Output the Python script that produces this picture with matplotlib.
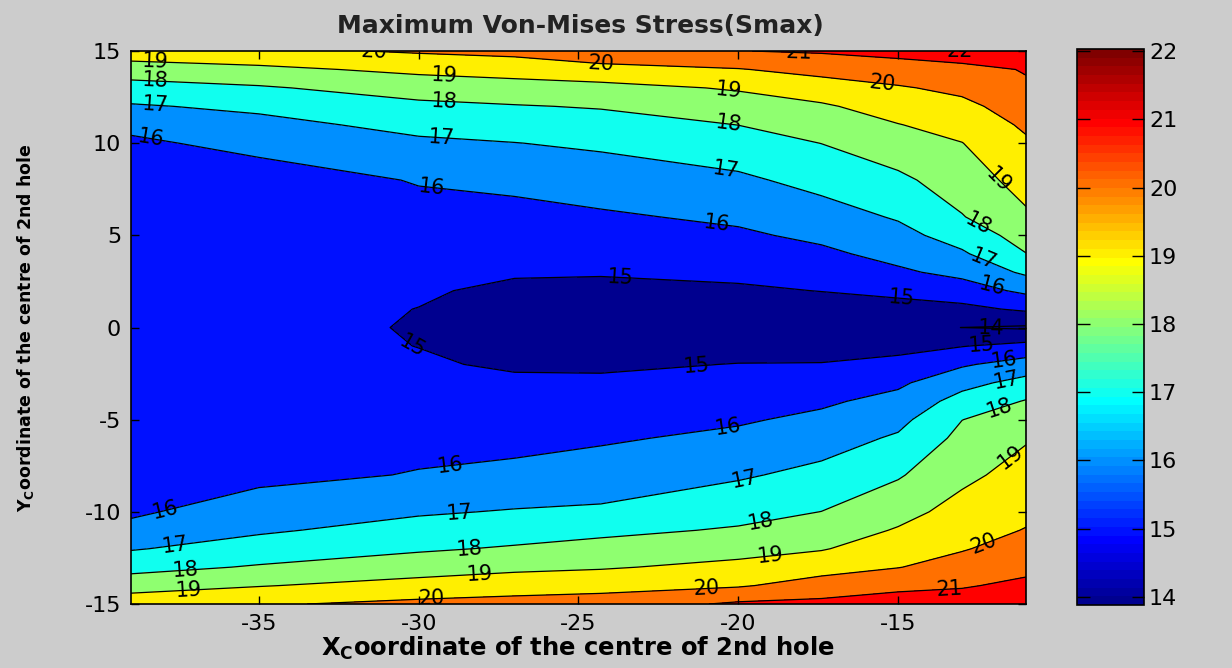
import numpy as np
import matplotlib
matplotlib.use("Agg")
import matplotlib.pyplot as plt
from matplotlib.colors import ListedColormap, Normalize
from matplotlib.cm import ScalarMappable

plt.rcParams['axes.unicode_minus'] = False

# grid of the sampled hole positions
x_nodes = [-39, -35, -30, -27, -24.3, -20, -17.4, -15, -13, -11]
y_nodes = [-15, -14, -13, -12, -11, -10, -8, -6, -5, -4, -3, -2, -1, 0,
           1, 2, 3, 4, 5, 6, 8, 10, 11, 12, 13, 14, 15]

# Smax values, one row per y node, columns follow x_nodes
smax = [
    [19.60, 19.90, 20.23, 20.36, 20.45, 21.15, 21.25, 21.50, 21.45, 21.65],
    [18.58, 18.95, 19.34, 19.54, 19.67, 19.90, 20.41, 20.74, 20.92, 21.20],
    [17.67, 18.09, 18.55, 18.79, 18.91, 19.25, 19.62, 19.97, 20.39, 20.77],
    [16.93, 17.42, 17.87, 18.10, 18.33, 18.66, 18.93, 19.53, 19.93, 20.41],
    [16.25, 16.87, 17.37, 17.57, 17.77, 18.10, 18.47, 19.08, 19.64, 20.04],
    [15.86, 16.48, 16.89, 17.07, 17.15, 17.67, 18.01, 18.68, 19.34, 19.80],
    [15.78, 15.75, 16.05, 16.20, 16.45, 16.88, 17.27, 17.90, 18.78, 19.36],
    [15.64, 15.59, 15.73, 15.76, 15.88, 16.21, 16.56, 17.13, 18.26, 18.92],
    [15.59, 15.48, 15.58, 15.55, 15.63, 15.89, 16.21, 16.72, 17.99, 18.46],
    [15.54, 15.39, 15.43, 15.33, 15.38, 15.60, 15.85, 16.30, 17.37, 18.06],
    [15.50, 15.32, 15.28, 15.12, 15.13, 15.31, 15.44, 15.83, 16.69, 17.33],
    [15.48, 15.27, 15.08, 14.91, 14.88, 15.02, 15.04, 15.28, 15.88, 16.42],
    [15.47, 15.24, 14.99, 14.80, 14.70, 14.71, 14.62, 14.71, 14.96, 15.28],
    [15.46, 15.23, 14.95, 14.78, 14.63, 14.39, 14.24, 14.11, 13.997, 13.88],
    [15.46, 15.24, 14.99, 14.80, 14.68, 14.55, 14.62, 14.66, 14.76, 15.15],
    [15.48, 15.27, 15.08, 14.86, 14.80, 14.87, 15.02, 15.23, 15.54, 16.20],
    [15.50, 15.31, 15.28, 15.07, 15.06, 15.20, 15.42, 15.85, 16.26, 17.17],
    [15.54, 15.37, 15.43, 15.30, 15.33, 15.52, 15.81, 16.30, 16.87, 17.98],
    [15.58, 15.45, 15.58, 15.52, 15.60, 15.85, 16.20, 16.70, 17.42, 18.40],
    [15.64, 15.55, 15.74, 15.75, 15.87, 16.17, 16.58, 17.09, 17.95, 18.85],
    [15.77, 15.60, 16.05, 16.20, 16.48, 16.82, 17.31, 17.80, 18.48, 19.38],
    [15.85, 16.25, 16.83, 16.98, 17.16, 17.59, 18.01, 18.57, 18.98, 19.87],
    [16.20, 16.71, 17.28, 17.45, 17.61, 18.01, 18.44, 18.97, 19.36, 20.15],
    [16.90, 17.20, 17.78, 17.94, 18.07, 18.53, 18.87, 19.44, 19.76, 20.46],
    [17.62, 17.89, 18.43, 18.61, 18.68, 19.10, 19.54, 19.91, 20.22, 20.78],
    [18.50, 18.78, 19.22, 19.39, 19.72, 19.95, 20.31, 20.56, 20.49, 21.10],
    [19.60, 19.77, 20.11, 20.28, 20.60, 20.98, 21.10, 21.30, 22.03, 21.40],
]

levels = [14, 15, 16, 17, 18, 19, 20, 21, 22]

# where the contour labels sit (approx. as in the original figure)
label_pos = [
    (-38.25, 14.3), (-38.25, 13.2), (-38.25, 12.1), (-38.4, 10.0), (-31.4, 14.97),
    (-29.2, 13.6), (-29.2, 12.2), (-29.3, 10.3), (-29.6, 7.6), (-30.3, -1.3),
    (-24.3, 14.2), (-20.3, 12.8), (-20.3, 10.9), (-20.4, 8.4), (-20.7, 5.4),
    (-23.7, 2.6), (-18.1, 14.6), (-13.2, 14.9), (-15.5, 13.1),
    (-11.8, 8.1), (-12.6, 5.3), (-12.4, 3.4), (-12.1, 2.0), (-14.9, 1.4),
    (-12.1, 0.0), (-12.4, -0.95), (-11.7, -1.8), (-11.6, -2.9), (-11.8, -4.6),
    (-11.5, -7.0), (-12.3, -11.8), (-13.4, -14.2),
    (-21.3, -2.4), (-20.3, -5.7), (-19.8, -8.4), (-19.3, -10.7), (-19.0, -12.6),
    (-21.0, -14.4),
    (-29.0, -7.6), (-28.7, -10.3), (-28.4, -12.2), (-28.1, -13.6), (-29.6, -14.7),
    (-37.9, -10.1), (-37.6, -11.9), (-37.3, -13.2), (-37.2, -14.3),
]


def matlab_jet(m=64):
    n = int(np.ceil(m / 4))
    u = np.concatenate([np.arange(1, n + 1) / n, np.ones(n - 1), np.arange(n, 0, -1) / n])
    g = int(np.ceil(n / 2)) - (1 if m % 4 == 1 else 0) + np.arange(1, len(u) + 1)
    r = g + n
    b = g - n
    J = np.zeros((m, 3))
    J[r[r <= m] - 1, 0] = u[r <= m]
    J[g[g <= m] - 1, 1] = u[g <= m]
    J[b[b >= 1] - 1, 2] = u[b >= 1]
    return J


X, Y = np.meshgrid(x_nodes, y_nodes)
Z = np.array(smax)
zmin, zmax = Z.min(), Z.max()
jet = matlab_jet(64)

# matlab style: each band takes the colour of its lower level
fill_levels = [zmin - 0.01] + levels + [zmax + 0.01]
band_colors = []
for lv in [zmin] + levels:
    idx = int(np.floor((lv - zmin) / (zmax - zmin) * 64))
    band_colors.append(jet[min(max(idx, 0), 63)])

fig = plt.figure(figsize=(12.32, 6.68), dpi=100, facecolor='#cccccc')
ax = fig.add_axes([0.1063, 0.0958, 0.7265, 0.8278])

ax.contourf(X, Y, Z, levels=fill_levels, colors=band_colors)
cs = ax.contour(X, Y, Z, levels=levels, colors='k', linewidths=0.9)
lbls = ax.clabel(cs, fmt='%d', fontsize=15, inline=False, manual=label_pos)
for t in lbls:
    t.set_clip_on(True)

ax.set_xlim(-39, -11)
ax.set_ylim(-15, 15)
ax.set_xticks([-35, -30, -25, -20, -15])
ax.set_yticks([-15, -10, -5, 0, 5, 10, 15])
ax.tick_params(direction='in', top=True, right=True, length=6, width=1,
               labelsize=16, pad=7)
for sp in ax.spines.values():
    sp.set_linewidth(1.2)

ax.set_xlabel(r'$\mathbf{X_C}$oordinate of the centre of 2nd hole',
              fontsize=17.5, fontweight='bold')
ax.xaxis.set_label_coords(0.5, -0.056)
ax.set_ylabel(r'$\mathbf{Y_C}$oordinate of the centre of 2nd hole',
              fontsize=12.5, fontweight='bold')
ax.yaxis.set_label_coords(-0.106, 0.5)

fig.text(0.471, 0.961, 'Maximum Von-Mises Stress(Smax)', ha='center', va='center',
         fontsize=18, fontweight='bold', color='#222222')

cax = fig.add_axes([0.8742, 0.0943, 0.0544, 0.8323])
sm = ScalarMappable(norm=Normalize(zmin, zmax), cmap=ListedColormap(jet))
cb = fig.colorbar(sm, cax=cax, ticks=levels)
cax.tick_params(direction='in', left=True, right=True, length=9, width=1,
                labelsize=16)
cb.outline.set_linewidth(1.2)

plt.savefig('out.png', dpi=100, facecolor=fig.get_facecolor())
